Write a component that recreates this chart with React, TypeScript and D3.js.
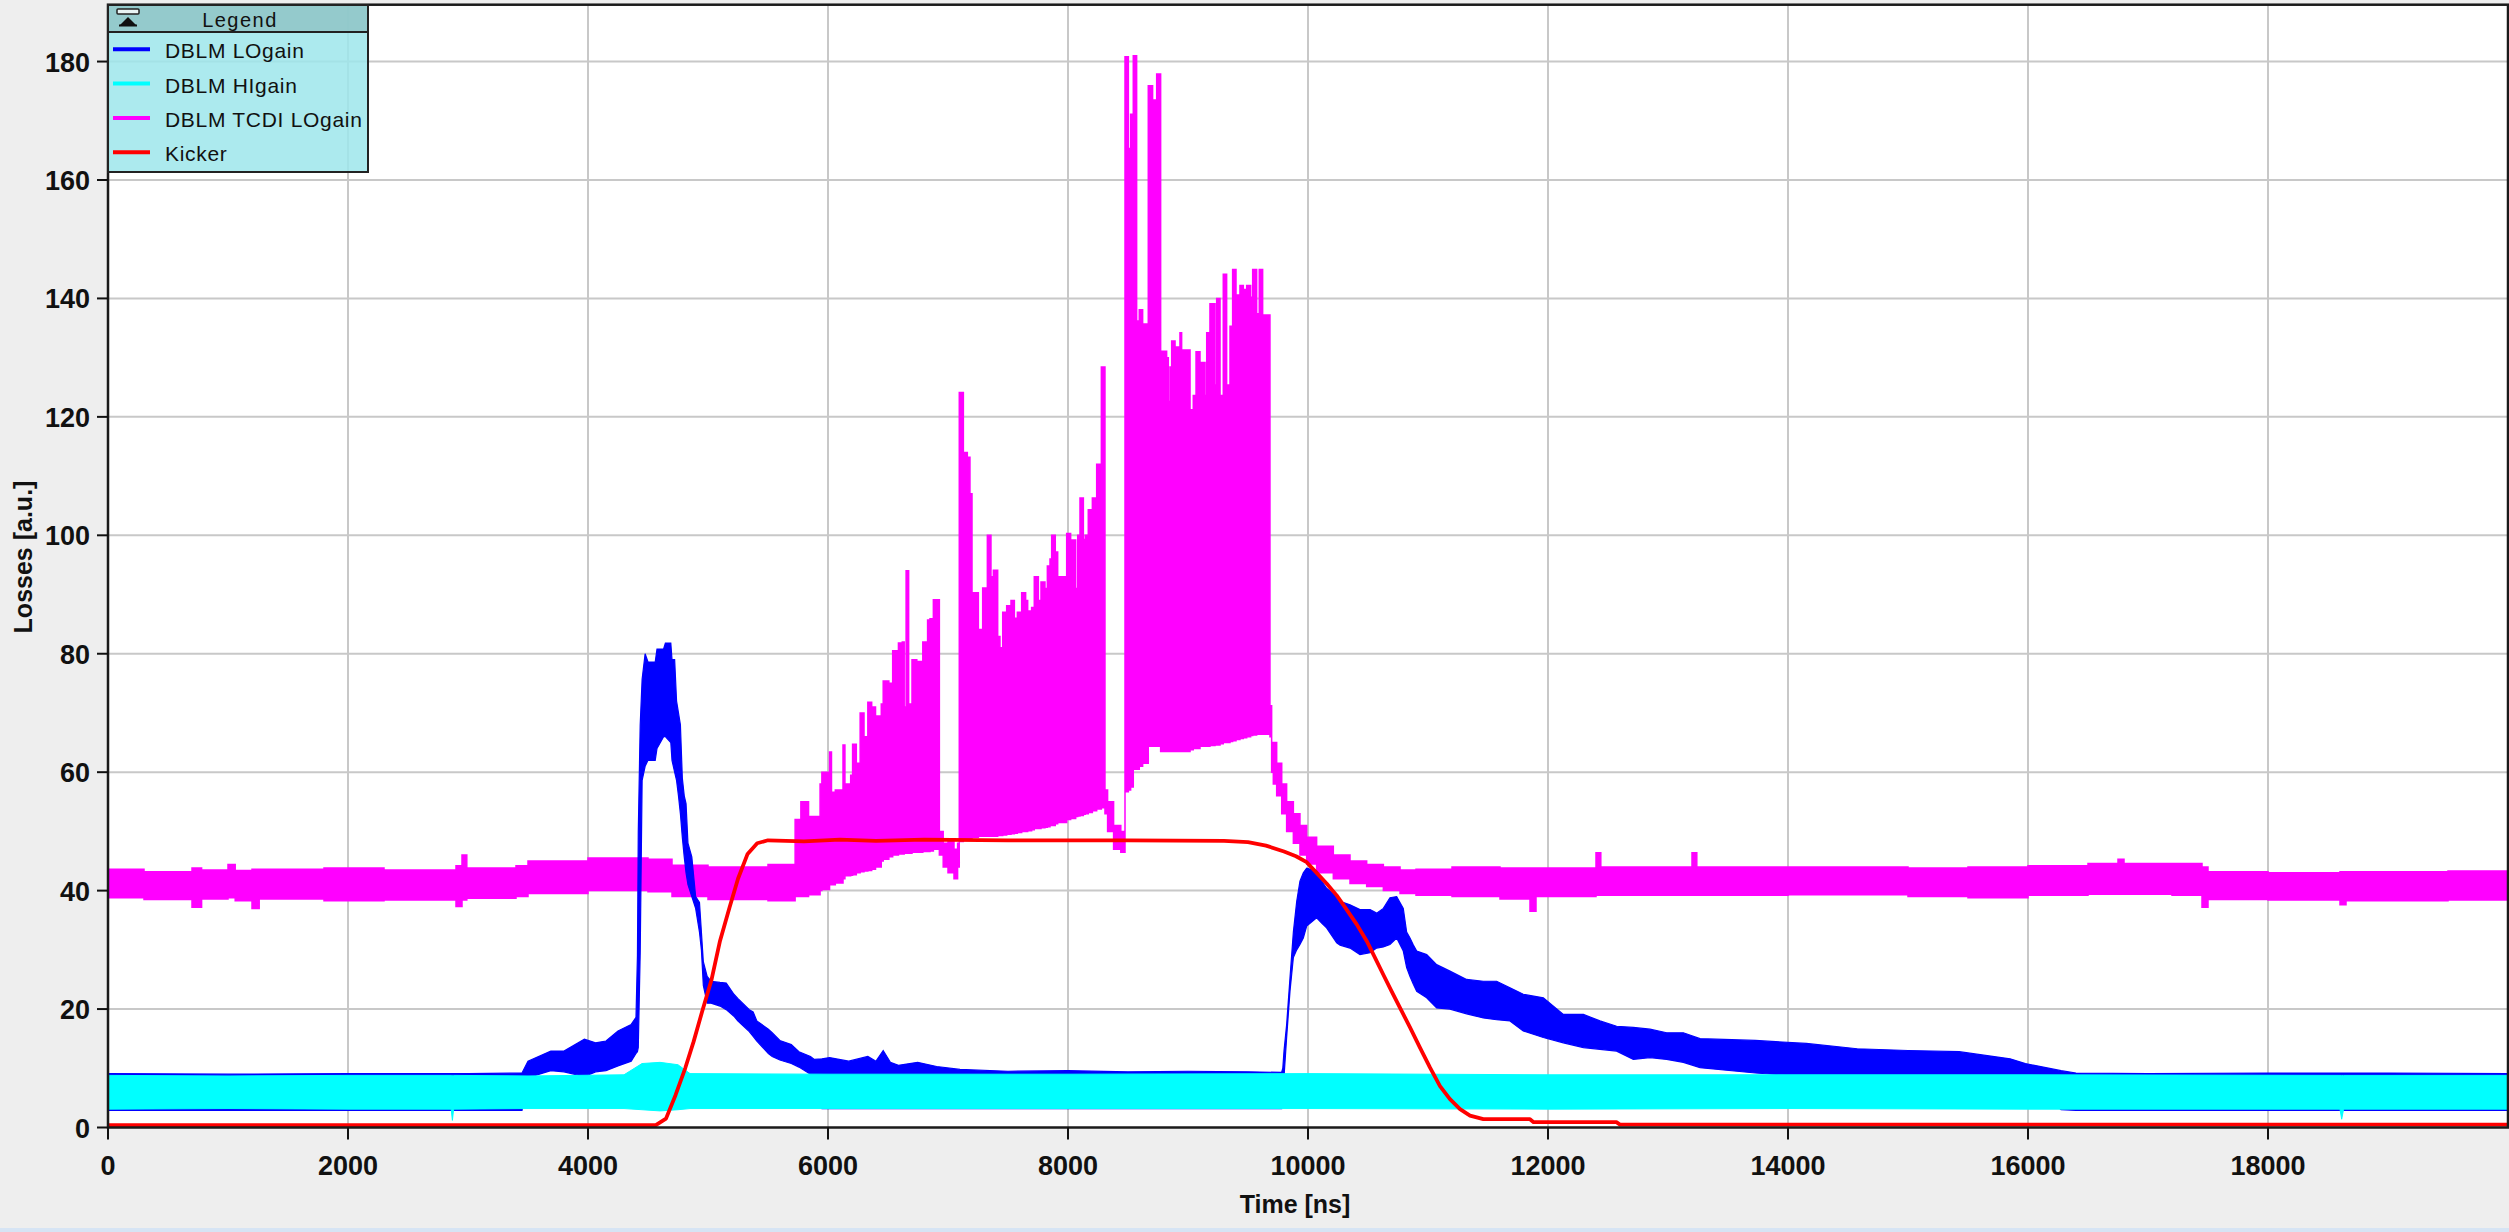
import React from 'react';
import * as d3 from 'd3';

// chart frame
const W = 2509;
const H = 1232;
const plotLeft = 108;
const plotRight = 2508;
const plotTop = 4.7;
const plotBottom = 1127.5;

const xTicks = [0, 2000, 4000, 6000, 8000, 10000, 12000, 14000, 16000, 18000];
const yTicks = [0, 20, 40, 60, 80, 100, 120, 140, 160, 180];

const seriesNames = ['DBLM LOgain', 'DBLM HIgain', 'DBLM TCDI LOgain', 'Kicker'];
const seriesColors = ['#0000ff', '#00ffff', '#ff00ff', '#ff0000'];

// noisy signals read as bands: [time ns, lower edge, upper edge]
const logainBand: [number, number, number][] = [
  [0, 2.9, 9.1], [1000, 2.9, 9.0], [2000, 2.9, 9.1], [3000, 2.9, 9.1], [3450, 2.9, 9.2],
  [3500, 8.4, 11.2], [3690, 9.6, 12.9], [3800, 9.4, 12.9], [3970, 8.6, 14.9], [4063, 9.4, 14.3],
  [4150, 9.6, 14.6], [4250, 10.4, 16.3], [4360, 11.2, 17.4], [4400, 12.5, 18.6], [4412, 12.8, 29],
  [4419, 13.5, 50], [4435, 29.5, 68], [4451, 58.6, 75.7], [4476, 61, 80], [4500, 62, 78.6],
  [4560, 62, 78.6], [4575, 64, 80.8], [4630, 66, 80.8], [4645, 66, 81.8], [4690, 65, 81.8],
  [4700, 62, 79], [4722, 60, 79], [4738, 58.6, 72], [4754, 56, 70], [4770, 53, 68],
  [4786, 49, 59], [4802, 45.7, 56], [4817, 43, 54.7], [4833, 41, 48], [4865, 39, 45.7],
  [4897, 37, 39], [4929, 33, 38], [4945, 30, 33], [4961, 24, 28], [4993, 21, 25.5],
  [5025, 21, 24.7], [5100, 20.5, 24.5], [5152, 19.9, 24.4], [5216, 18.8, 22.5], [5248, 18, 21.8],
  [5344, 16.2, 19.9], [5376, 15.4, 19.5], [5407, 14.6, 18], [5503, 12.5, 16.6], [5535, 12, 16],
  [5599, 11.4, 14.7], [5694, 10.8, 14], [5758, 10.2, 12.8], [5854, 9, 12], [5886, 8.6, 11.5],
  [5950, 3.2, 11.6], [6013, 3.2, 11.8], [6173, 3.2, 11.2], [6332, 3.2, 12], [6400, 3.2, 11.2],
  [6460, 3.2, 13], [6520, 3.2, 11], [6587, 3.2, 10.5], [6747, 3.2, 11], [6906, 3.2, 10.3],
  [7100, 3.2, 9.8], [7500, 3.2, 9.5], [8000, 3.2, 9.6], [8500, 3.2, 9.4], [9000, 3.2, 9.5],
  [9500, 3.2, 9.4], [9780, 3.2, 9.3], [9790, 7.9, 10], [9800, 8.5, 12.9], [9822, 15.2, 17.4],
  [9850, 23, 25.3], [9878, 28.7, 33], [9906, 30, 38.2], [9933, 30.9, 41.6], [9961, 32, 43],
  [9989, 34, 43.8], [10072, 35.4, 43.3], [10114, 34.5, 41.6], [10155, 33.7, 40.4], [10239, 31.2, 39],
  [10267, 30.8, 38.2], [10350, 30.3, 37.6], [10433, 29.2, 36.8], [10517, 29.5, 36.8], [10572, 30.3, 36.2],
  [10628, 30.5, 37], [10683, 30.9, 38.8], [10739, 32, 39], [10794, 29.8, 37], [10822, 27, 33],
  [10850, 25.5, 32], [10878, 24.2, 30.8], [10906, 23, 29.8], [10989, 21.9, 29.2], [11072, 20.2, 27.5],
  [11183, 20, 26.4], [11322, 19.2, 25], [11461, 18.5, 24.7], [11572, 18.2, 24.7], [11683, 18, 23.6],
  [11794, 16.3, 22.5], [11961, 15.2, 21.9], [12128, 14.3, 19.1], [12295, 13.5, 19.1], [12433, 13.2, 18],
  [12572, 12.9, 17.1], [12711, 11.5, 16.9], [12850, 11.8, 16.6], [12989, 11.5, 16], [13128, 11, 16],
  [13267, 10.1, 15], [13728, 9.2, 14.7], [14153, 8.6, 14.2], [14577, 8.5, 13.3], [15002, 8.5, 13],
  [15427, 8.5, 12.8], [15851, 8.5, 11.6], [15978, 8.3, 10.8], [16276, 3, 9.6], [16400, 2.9, 9.2],
  [17000, 2.9, 9.1], [18000, 2.9, 9.2], [19000, 2.9, 9.2], [20000, 2.9, 9.1],
];

const higainBand: [number, number, number][] = [
  [0, 3.1, 8.8], [1000, 3.2, 8.7], [2000, 3.1, 8.8], [2860, 3.1, 8.8], [2870, 1.2, 8.8],
  [2880, 3.1, 8.8], [3500, 3.2, 8.7], [4300, 3.2, 8.9], [4450, 3.0, 10.8], [4600, 2.8, 11.0],
  [4750, 3.0, 10.6], [4850, 3.2, 9.1], [6000, 3.2, 9.0], [8000, 3.2, 9.0], [10000, 3.2, 9.1],
  [12000, 3.1, 8.9], [14000, 3.2, 8.9], [16000, 3.1, 8.9], [18600, 3.1, 8.8], [18614, 1.4, 8.8],
  [18630, 3.1, 8.8], [20000, 3.1, 8.8],
];

const tcdiBand: [number, number, number][] = [
  // quiet level before the bunches
  [0, 38.8, 43.6], [300, 38.5, 43.2], [700, 37.2, 43.8], [780, 38.6, 43.5], [1000, 38.8, 44.4],
  [1060, 38.3, 43.4], [1200, 37.0, 43.6], [1260, 38.6, 43.6], [1800, 38.3, 43.8], [2300, 38.4, 43.5],
  [2900, 37.3, 44.2], [2950, 38.4, 46], [2990, 38.7, 43.8], [3400, 39.0, 44.2], [3500, 39.5, 45.0],
  [4000, 40.0, 45.5], [4500, 39.8, 45.3], [4700, 39.0, 44.3], [5000, 38.5, 44.0], [5500, 38.3, 44.4],
  // first bunch train
  [5726, 39, 52], [5774, 39, 55], [5838, 39.3, 52.5], [5934, 40, 58], [5949, 40.2, 60],
  [6013, 41, 63.4], [6029, 41, 56.6], [6061, 41.3, 57], [6125, 42, 64.6], [6141, 42.5, 58],
  [6189, 42.6, 59.5], [6205, 42.7, 64.7], [6236, 43, 61.5], [6268, 43.2, 70], [6300, 43.3, 66],
  [6332, 43.4, 71.8], [6364, 43.6, 71], [6396, 44, 69.5], [6444, 45, 71.5], [6460, 45.3, 75.4],
  [6507, 45.7, 75], [6539, 46, 80.5], [6587, 46.2, 81.8], [6619, 46.2, 82], [6635, 46.3, 71],
  [6651, 46.3, 94], [6672, 46.3, 71.5], [6700, 46.5, 79], [6740, 46.5, 78.7], [6790, 46.6, 82],
  [6830, 46.6, 85.7], [6850, 46.7, 85.9], [6878, 47, 89.1], [6928, 46, 50], [6960, 44, 48],
  [7000, 43, 48.5], [7050, 42, 47], [7080, 44, 48],
  // second bunch train
  [7094, 48.3, 124.1], [7128, 48.5, 114], [7161, 48.7, 113.2], [7183, 48.8, 107], [7200, 49, 90.3],
  [7253, 49.2, 84.1], [7289, 49.2, 91.1], [7328, 49.2, 100], [7358, 49.2, 93], [7378, 49.2, 94.1],
  [7414, 49.3, 82.9], [7433, 49.3, 81], [7456, 49.4, 87], [7489, 49.5, 88.1], [7525, 49.6, 89],
  [7553, 49.7, 86], [7578, 49.8, 87], [7614, 50, 90.3], [7647, 50, 89], [7664, 50.1, 87.2],
  [7697, 50.3, 87.8], [7719, 50.5, 93], [7753, 50.5, 89], [7775, 50.6, 92.1], [7808, 50.7, 91],
  [7828, 50.8, 94.8], [7850, 51, 96], [7864, 51, 100], [7894, 51.3, 97.2], [7914, 51.5, 93],
  [7989, 52, 100.3], [8022, 52.2, 99.2], [8064, 52.5, 91], [8081, 52.6, 100], [8100, 52.7, 106.3],
  [8128, 52.9, 99.3], [8144, 53, 100], [8169, 53.2, 104.3], [8203, 53.5, 106.3], [8239, 53.8, 112],
  [8278, 54, 128.4], [8308, 53, 57], [8330, 50, 55], [8380, 47, 51], [8440, 46.5, 50],
  // third bunch train
  [8475, 56.7, 180.8], [8503, 57, 165.3], [8522, 57.5, 171.1], [8544, 60.5, 181], [8572, 60.5, 136.2],
  [8594, 61, 138.1], [8622, 61.5, 135.7], [8669, 64.4, 175.9], [8705, 64.4, 173.5], [8739, 64.4, 177.9],
  [8772, 63.5, 131.1], [8822, 63.5, 130], [8836, 63.5, 122.6], [8850, 63.5, 128.4], [8864, 63.5, 132.8],
  [8892, 63.5, 131.8], [8933, 63.5, 134.2], [8947, 63.5, 131.3], [9017, 63.8, 121.2], [9044, 64, 123.6],
  [9067, 64, 131], [9100, 64.4, 129.2], [9142, 64.4, 123.6], [9156, 64.4, 134.2], [9183, 64.5, 139.1],
  [9225, 64.6, 125.4], [9239, 64.6, 140], [9267, 64.8, 123.6], [9294, 65, 144.1], [9322, 65, 125.4],
  [9350, 65.2, 135.3], [9372, 65.3, 144.9], [9400, 65.5, 140.6], [9433, 65.7, 142.2], [9461, 65.8, 141.5],
  [9489, 66, 142.2], [9522, 66.2, 140.2], [9539, 66.3, 144.9], [9572, 66.4, 137.4], [9594, 66.4, 144.9],
  [9622, 66.4, 137.2], [9683, 66, 71.2],
  // decay back to the quiet level
  [9697, 60, 65], [9711, 58, 65], [9739, 56, 61.5], [9781, 53, 58], [9822, 50, 55],
  [9878, 48, 53], [9933, 46, 51], [9989, 44.5, 49], [10072, 43, 47.5], [10211, 42, 46],
  [10350, 41.2, 45], [10489, 40.7, 44.4], [10628, 40, 44], [10767, 39.5, 43.5], [10900, 39.2, 43.6],
  [11200, 39.0, 44.0], [11600, 38.6, 43.8], [11850, 36.5, 43.8], [11900, 39.0, 43.8], [12400, 39.2, 46.4],
  [12440, 39.2, 44.0], [13200, 39.2, 46.4], [13240, 39.2, 44.0], [14000, 39.3, 44.0], [15000, 39.0, 43.8],
  [15500, 38.8, 44.0], [16000, 39.2, 44.2], [16500, 39.4, 44.6], [16750, 39.4, 45.3], [16800, 39.4, 44.6],
  [17200, 39.2, 44.6], [17450, 37.2, 44.0], [17500, 38.5, 43.2], [18000, 38.4, 43.0], [18600, 37.6, 43.2],
  [18650, 38.3, 43.2], [19500, 38.4, 43.3], [20000, 38.4, 43.3],
];

const kickerLine: [number, number][] = [
  [0, 0.4], [4565, 0.4], [4650, 1.5], [4730, 5.5], [4810, 10], [4880, 14.5], [4950, 19.5],
  [5030, 25], [5100, 31.5], [5180, 37.2], [5250, 42], [5330, 46.2], [5410, 48], [5500, 48.5],
  [5800, 48.3], [6100, 48.6], [6400, 48.4], [6800, 48.6], [7500, 48.5], [8500, 48.5], [9300, 48.4],
  [9500, 48.2], [9650, 47.6], [9800, 46.6], [9900, 45.8], [9989, 44.8], [10072, 43], [10155, 41.2],
  [10239, 39.2], [10322, 36.8], [10406, 34.3], [10489, 31.5], [10558, 28.7], [10628, 25.8], [10697, 23],
  [10767, 20.2], [10850, 16.9], [10933, 13.5], [11017, 10.1], [11100, 7], [11183, 4.8], [11267, 3.1],
  [11350, 2], [11461, 1.4], [11850, 1.4], [11880, 0.9], [12570, 0.9], [12600, 0.5], [20000, 0.5],
];

const font = '"Liberation Sans", Arial, sans-serif';

export default function App() {
  const x = d3.scaleLinear().domain([0, 20000]).range([plotLeft, plotRight]);
  const y = d3.scaleLinear().domain([0, 189.6]).range([plotBottom, plotTop]);

  const band = (curve: d3.CurveFactory) =>
    d3.area<[number, number, number]>()
      .x(d => x(d[0]))
      .y0(d => y(d[1]))
      .y1(d => y(d[2]))
      .curve(curve);

  const kicker = d3.line<[number, number]>()
    .x(d => x(d[0]))
    .y(d => y(d[1]));

  const legendX = 108;
  const legendY = 5;
  const legendW = 260;
  const legendH = 167;

  return (
    <svg width={W} height={H} style={{ position: 'absolute', left: 0, top: 0, display: 'block' }}>
      <rect x={0} y={0} width={W} height={H} fill="#eeeeee" />
      <rect x={0} y={1228} width={W} height={4} fill="#d6e4f4" />
      <rect x={plotLeft} y={plotTop} width={plotRight - plotLeft} height={plotBottom - plotTop} fill="#ffffff" />

      {/* grid */}
      {xTicks.filter(t => t > 0).map(t => (
        <line key={'gx' + t} x1={x(t)} x2={x(t)} y1={plotTop} y2={plotBottom} stroke="#c8c8c8" strokeWidth={2} />
      ))}
      {yTicks.filter(t => t > 0).map(t => (
        <line key={'gy' + t} x1={plotLeft} x2={plotRight} y1={y(t)} y2={y(t)} stroke="#c8c8c8" strokeWidth={2} />
      ))}

      <defs>
        <clipPath id="plotClip">
          <rect x={plotLeft} y={plotTop} width={plotRight - plotLeft} height={plotBottom - plotTop} />
        </clipPath>
      </defs>

      <g clipPath="url(#plotClip)">
        <path d={band(d3.curveStepAfter)(tcdiBand) || ''} fill={seriesColors[2]} stroke={seriesColors[2]} strokeWidth={1.5} />
        <path d={band(d3.curveLinear)(logainBand) || ''} fill={seriesColors[0]} stroke={seriesColors[0]} strokeWidth={1.2} />
        <path d={band(d3.curveLinear)(higainBand) || ''} fill={seriesColors[1]} stroke={seriesColors[1]} strokeWidth={1} />
        <path d={kicker(kickerLine) || ''} fill="none" stroke={seriesColors[3]} strokeWidth={3.8} strokeLinejoin="round" />
      </g>

      {/* frame and axes */}
      <rect x={plotLeft} y={plotTop} width={plotRight - plotLeft} height={plotBottom - plotTop} fill="none" stroke="#1a1a1a" strokeWidth={2.5} />

      {yTicks.map(t => (
        <g key={'yt' + t}>
          <line x1={97} x2={plotLeft} y1={y(t)} y2={y(t)} stroke="#111" strokeWidth={2} />
          <text x={90} y={y(t) + 10} textAnchor="end" fontFamily={font} fontWeight="bold" fontSize={27} fill="#111">{t}</text>
        </g>
      ))}
      {xTicks.map(t => (
        <g key={'xt' + t}>
          <line x1={x(t)} x2={x(t)} y1={plotBottom} y2={plotBottom + 12} stroke="#111" strokeWidth={2} />
          <text x={x(t)} y={1175} textAnchor="middle" fontFamily={font} fontWeight="bold" fontSize={27} fill="#111">{t}</text>
        </g>
      ))}

      <text x={1295} y={1213} textAnchor="middle" fontFamily={font} fontWeight="bold" fontSize={25} fill="#111">Time [ns]</text>
      <text transform="translate(32,557) rotate(-90)" textAnchor="middle" fontFamily={font} fontWeight="bold" fontSize={25} fill="#111">Losses [a.u.]</text>

      {/* legend */}
      <g>
        <rect x={legendX} y={legendY} width={legendW} height={legendH} fill="rgb(158,230,235)" fillOpacity={0.85} />
        <rect x={legendX} y={legendY} width={legendW} height={27} fill="rgb(143,196,198)" fillOpacity={0.85} />
        <rect x={legendX} y={legendY} width={legendW} height={legendH} fill="none" stroke="#222" strokeWidth={2} />
        <line x1={legendX} x2={legendX + legendW} y1={32} y2={32} stroke="#222" strokeWidth={2} />
        <rect x={117} y={9} width={22} height={5} rx={1} fill="#e8f4f4" stroke="#222" strokeWidth={1.5} />
        <polygon points="120,25 136,25 128,17" fill="#111" />
        <rect x={119} y={24.5} width={18} height={2} fill="#111" />
        <text x={240} y={27} textAnchor="middle" fontFamily={font} fontSize={20} letterSpacing={1.5} fill="#111">Legend</text>
        {seriesNames.map((name, i) => {
          const cy = 49.3 + i * 34.3;
          return (
            <g key={name}>
              <line x1={113} x2={150} y1={cy} y2={cy} stroke={seriesColors[i]} strokeWidth={4} />
              <text x={165} y={cy + 9} fontFamily={font} fontSize={21} letterSpacing={0.7} fill="#111">{name}</text>
            </g>
          );
        })}
      </g>
    </svg>
  );
}
